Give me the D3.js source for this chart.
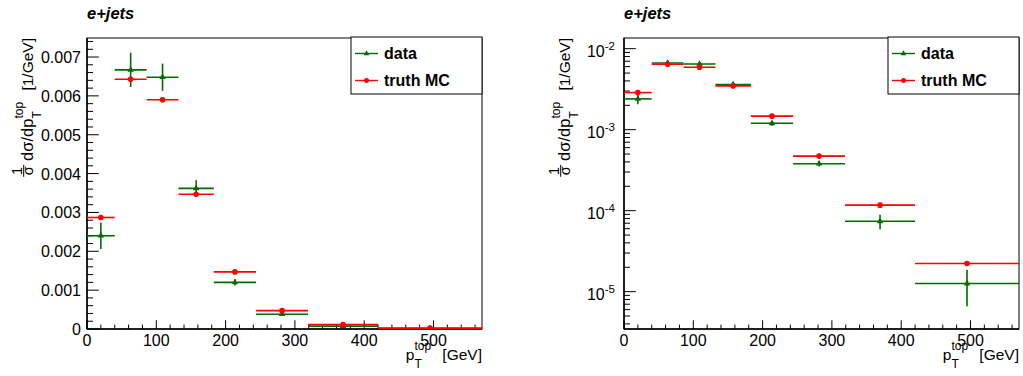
<!DOCTYPE html>
<html>
<head>
<meta charset="utf-8">
<script src="https://cdn.jsdelivr.net/npm/d3@7"></script>
<style>
  html, body { margin: 0; padding: 0; background: #fff; }
  svg { display: block; font-family: "Liberation Sans", Arial, sans-serif; }
  svg text { white-space: pre; }
</style>
</head>
<body>
<svg id="chart" width="1023" height="376"></svg>
<script>
// Normalised differential cross section vs top-quark pT, e+jets channel
const binEdges   = [0, 40, 86, 132, 183, 244, 319, 420, 570];
const dataValues = [0.00240, 0.00667, 0.00648, 0.00362, 0.00120, 0.000380, 0.0000740, 0.0000126];
const dataErrors = [0.00034, 0.00044, 0.00035, 0.00021, 0.00008, 0.000030, 0.0000150, 0.0000060];
const mcValues   = [0.00287, 0.00643, 0.00590, 0.00347, 0.00147, 0.000472, 0.000117, 0.0000223];
const seriesNames = ["data", "truth MC"];
const linearTicks = [0, 0.001, 0.002, 0.003, 0.004, 0.005, 0.006, 0.007];
const logDecades  = [-5, -4, -3, -2];
const xTicks      = [0, 100, 200, 300, 400, 500];
const channelLabel = "e+jets";

const GREEN = "#006b00";
const RED = "#ff0000";

const svg = d3.select("#chart");

const bins = dataValues.map((v, i) => ({
  lo: binEdges[i], hi: binEdges[i + 1], mid: (binEdges[i] + binEdges[i + 1]) / 2,
  data: v, err: dataErrors[i], mc: mcValues[i]
}));

// Lays out a title made of plain runs, stacked sub/superscripts and a fraction.
function layoutTitle(g, segs, size) {
  let x = 0;
  segs.forEach(seg => {
    if (seg.stack) {
      const ws = seg.stack.map(s => {
        const t = g.append("text").attr("x", x + (s.dx || 0)).attr("y", s.shift)
          .attr("font-size", s.size).text(s.text);
        return t.node().getComputedTextLength() + (s.dx || 0);
      });
      x += d3.max(ws) + (seg.gap || 0);
    } else if (seg.frac) {
      const fs = seg.size;
      const num = g.append("text").attr("font-size", fs).attr("text-anchor", "middle").text(seg.frac[0]);
      const den = g.append("text").attr("font-size", fs).attr("text-anchor", "middle").text(seg.frac[1]);
      const w = Math.max(num.node().getComputedTextLength(), den.node().getComputedTextLength()) + 3;
      num.attr("x", x + w / 2).attr("y", -11);
      den.attr("x", x + w / 2).attr("y", 0);
      g.append("line").attr("x1", x).attr("x2", x + w).attr("y1", -9.3).attr("y2", -9.3)
        .attr("stroke", "#000").attr("stroke-width", 1);
      x += w + (seg.gap || 0);
    } else {
      const t = g.append("text").attr("x", x).attr("y", 0).attr("font-size", seg.size || size).text(seg.text);
      x += t.node().getComputedTextLength();
    }
  });
  return x;
}

function drawPanel(left, useLog) {
  const top = 38, bottom = 329, right = left + 395;
  const g = svg.append("g");

  const x = d3.scaleLinear().domain([binEdges[0], binEdges[binEdges.length - 1]]).range([left, right]);
  const y = useLog
    ? d3.scaleLog().domain([3.46e-6, 0.01355]).range([bottom, top])
    : d3.scaleLinear().domain([0, 0.00749]).range([bottom, top]);

  // frame
  g.append("rect").attr("x", left).attr("y", top).attr("width", right - left).attr("height", bottom - top)
    .attr("fill", "none").attr("stroke", "#000").attr("stroke-width", 1);

  // x axis ticks (major every 100, minor every 20)
  const xMinor = d3.range(0, 571, 20).filter(v => v % 100 !== 0);
  g.selectAll(null).data(xTicks).join("line")
    .attr("x1", d => x(d)).attr("x2", d => x(d)).attr("y1", bottom).attr("y2", bottom - 8.7)
    .attr("stroke", "#000");
  g.selectAll(null).data(xMinor).join("line")
    .attr("x1", d => x(d)).attr("x2", d => x(d)).attr("y1", bottom).attr("y2", bottom - 4.4)
    .attr("stroke", "#000");
  g.selectAll(null).data(xTicks).join("text")
    .attr("x", d => x(d)).attr("y", 346).attr("text-anchor", "middle").attr("font-size", 16)
    .text(d => d);
  g.append("line").attr("x1", left).attr("x2", right).attr("y1", bottom).attr("y2", bottom)
    .attr("stroke", "#000").attr("stroke-width", 1.5);

  // y axis
  if (useLog) {
    const minor = [];
    for (let e = -6; e <= -2; e++) {
      for (let m = 2; m <= 9; m++) {
        const v = m * Math.pow(10, e);
        if (v >= y.domain()[0] && v <= y.domain()[1]) minor.push(v);
      }
    }
    g.selectAll(null).data(minor).join("line")
      .attr("x1", left).attr("x2", left + 6).attr("y1", d => y(d)).attr("y2", d => y(d))
      .attr("stroke", "#000");
    g.selectAll(null).data(logDecades).join("line")
      .attr("x1", left).attr("x2", left + 11.8).attr("y1", d => y(Math.pow(10, d))).attr("y2", d => y(Math.pow(10, d)))
      .attr("stroke", "#000");
    const lab = g.selectAll(null).data(logDecades).join("text")
      .attr("x", left - 9).attr("y", d => y(Math.pow(10, d)) + 8).attr("text-anchor", "end")
      .attr("font-size", 16);
    lab.append("tspan").text("10");
    lab.append("tspan").attr("dy", -6.5).attr("font-size", 11.5).text(d => "-" + Math.abs(d));
  } else {
    const minor = d3.range(0, 0.00749, 0.0002).filter((v, i) => i % 5 !== 0);
    g.selectAll(null).data(minor).join("line")
      .attr("x1", left).attr("x2", left + 6).attr("y1", d => y(d)).attr("y2", d => y(d))
      .attr("stroke", "#000");
    g.selectAll(null).data(linearTicks).join("line")
      .attr("x1", left).attr("x2", left + 11.8).attr("y1", d => y(d)).attr("y2", d => y(d))
      .attr("stroke", "#000");
    g.selectAll(null).data(linearTicks).join("text")
      .attr("x", left - 6).attr("y", d => y(d) + 6).attr("text-anchor", "end").attr("font-size", 16)
      .text(d => d === 0 ? "0" : d.toFixed(3));
  }
  g.append("line").attr("x1", left).attr("x2", left).attr("y1", top).attr("y2", bottom)
    .attr("stroke", "#000").attr("stroke-width", 1.5);

  // points clipped to the frame
  const clipId = "clip" + left;
  svg.append("clipPath").attr("id", clipId).append("rect")
    .attr("x", left).attr("y", top - 1).attr("width", right - left + 1).attr("height", bottom - top + 1);
  const marks = g.append("g").attr("clip-path", `url(#${clipId})`);

  // data: horizontal bin width, vertical uncertainty, triangle marker
  const dg = marks.append("g");
  dg.selectAll(null).data(bins).join("line")
    .attr("x1", d => x(d.lo)).attr("x2", d => x(d.hi)).attr("y1", d => y(d.data)).attr("y2", d => y(d.data))
    .attr("stroke", GREEN).attr("stroke-width", 1.6);
  dg.selectAll(null).data(bins).join("line")
    .attr("x1", d => x(d.mid)).attr("x2", d => x(d.mid))
    .attr("y1", d => y(d.data + d.err)).attr("y2", d => y(Math.max(d.data - d.err, y.domain()[0])))
    .attr("stroke", GREEN).attr("stroke-width", 1.6);
  dg.selectAll(null).data(bins).join("path")
    .attr("d", d3.symbol(d3.symbolTriangle, 18))
    .attr("transform", d => `translate(${x(d.mid)},${y(d.data)})`)
    .attr("fill", GREEN);

  // truth MC: horizontal bin width, circle marker
  const mg = marks.append("g");
  mg.selectAll(null).data(bins).join("line")
    .attr("x1", d => x(d.lo)).attr("x2", d => x(d.hi)).attr("y1", d => y(d.mc)).attr("y2", d => y(d.mc))
    .attr("stroke", RED).attr("stroke-width", 1.6);
  mg.selectAll(null).data(bins).join("circle")
    .attr("cx", d => x(d.mid)).attr("cy", d => y(d.mc)).attr("r", 2.8)
    .attr("fill", RED);

  // legend
  const lg = g.append("g").attr("transform", `translate(${left + 264},37)`);
  lg.append("rect").attr("x", 0).attr("y", 0).attr("width", right - left - 264).attr("height", 57)
    .attr("fill", "#fff").attr("stroke", "#000").attr("stroke-width", 1);
  const entries = [
    { name: seriesNames[0], color: GREEN, marker: "tri", yy: 16.5 },
    { name: seriesNames[1], color: RED, marker: "dot", yy: 43.5 }
  ];
  entries.forEach(en => {
    lg.append("line").attr("x1", 4).attr("x2", 27).attr("y1", en.yy).attr("y2", en.yy)
      .attr("stroke", en.color).attr("stroke-width", 1.4);
    if (en.marker === "tri") {
      lg.append("path").attr("d", d3.symbol(d3.symbolTriangle, 14))
        .attr("transform", `translate(15.5,${en.yy})`).attr("fill", en.color);
    } else {
      lg.append("circle").attr("cx", 15.5).attr("cy", en.yy).attr("r", 2.5).attr("fill", en.color);
    }
    lg.append("text").attr("x", 33).attr("y", en.yy + 5.2).attr("font-size", 16).attr("font-weight", "bold")
      .text(en.name);
  });

  // channel label
  g.append("text").attr("x", left).attr("y", 18.5).attr("font-size", 16.5)
    .attr("font-weight", "bold").attr("font-style", "italic").text(channelLabel);

  // x title: p_T^top [GeV]
  const xt = g.append("g");
  const xw = layoutTitle(xt, [
    { text: "p" },
    { stack: [{ text: "top", size: 12, shift: -10 }, { text: "T", size: 12, shift: 7.5 }], gap: 7 },
    { text: " [GeV]" }
  ], 15.5);
  xt.attr("transform", `translate(${right - xw},360)`);

  // y title: 1/σ dσ/dp_T^top [1/GeV]
  const yt = g.append("g");
  const yw = layoutTitle(yt, [
    { frac: ["1", "σ"], size: 14.5, gap: 4 },
    { text: "dσ/dp", size: 16.5 },
    { stack: [{ text: "top", size: 12, shift: -10 }, { text: "T", size: 12, shift: 7.5 }], gap: 7 },
    { text: " [1/GeV]" }
  ], 15.5);
  yt.attr("transform", `translate(${left - 54},${top + yw}) rotate(-90)`);
}

drawPanel(87, false);
drawPanel(624, true);
</script>
</body>
</html>
